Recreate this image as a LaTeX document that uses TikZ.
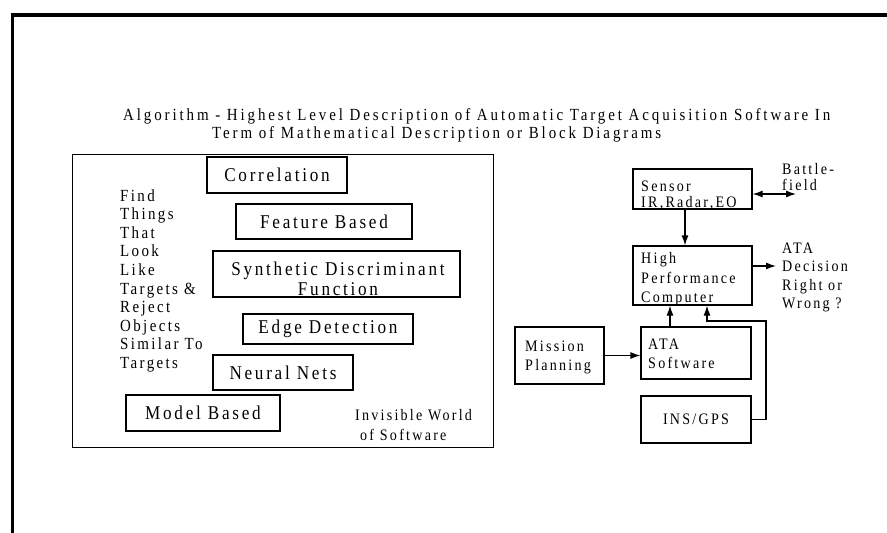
\documentclass[tikz,border=0pt]{standalone}
\usepackage{fontspec}
\setmainfont{Liberation Serif}[LetterSpace=14,FakeStretch=0.88]
\newfontfamily\titlefont{Liberation Serif}[LetterSpace=17,FakeStretch=0.88]
\usetikzlibrary{arrows.meta}
\begin{document}
\begin{tikzpicture}[x=1pt,y=-1pt,
  box/.style={draw, line width=1.2pt, inner sep=0pt},
  boxtxt/.style={font=\fontsize{19.5}{20}\selectfont},
  lbl/.style={inner sep=0pt, font=\fontsize{16}{18.6}\selectfont, align=left, anchor=north west},
  arr/.style={line width=1.2pt, -{Latex[length=10pt,width=7pt]}},
  darr/.style={line width=1.2pt, {Latex[length=10pt,width=7pt]}-{Latex[length=10pt,width=7pt]}},
  ttl/.style={inner sep=0pt, anchor=base west, font=\titlefont\fontsize{17}{17}\selectfont}
]
\useasboundingbox (0,0) rectangle (887,533);
\fill[white] (0,0) rectangle (887,533);
% page borders
\draw[line width=4pt] (11,14.5) -- (887,14.5);
\draw[line width=3.5pt] (12.5,13) -- (12.5,533);
% title
\node[ttl] (title1) at (123,120) {Algorithm - Highest Level Description of Automatic Target Acquisition Software In};
\node[ttl] (title2) at (212,138) {Term of Mathematical Description or Block Diagrams};
% left frame
\node[draw, line width=0.8pt, inner sep=0pt, minimum width=421pt, minimum height=293pt] (world) at (282.5,301) {};
% algorithm boxes
\node[box, boxtxt, minimum width=140pt, minimum height=36pt] (corr) at (277,175) {Correlation};
\node[box, boxtxt, minimum width=176pt, minimum height=35pt] (feat) at (324,221.5) {Feature Based};
\node[box, minimum width=247pt, minimum height=46pt] (synth) at (336.5,274) {};
\node[inner sep=0pt, boxtxt, align=center] (synthtxt) at (338,279) {Synthetic Discriminant\\Function};
\node[box, boxtxt, minimum width=170pt, minimum height=30pt] (edge) at (328,329) {Edge Detection};
\node[box, boxtxt, minimum width=140pt, minimum height=35pt] (neural) at (283,372.5) {Neural Nets};
\node[box, boxtxt, minimum width=154pt, minimum height=36pt] (model) at (203,413) {Model Based};
% left text
\node[lbl, font=\fontsize{17}{18.6}\selectfont] (find) at (120,189) {Find\\Things\\That\\Look\\Like\\Targets \&\\Reject\\Objects\\Similar To\\Targets};
\node[lbl, font=\fontsize{16}{20}\selectfont] (invis) at (355,409.4) {Invisible World\\\hspace*{5pt}of Software};
% right block diagram
\node[box, minimum width=119pt, minimum height=40pt] (sensor) at (692.5,189) {};
\node[lbl, font=\fontsize{16}{16}\selectfont] (sensortxt) at (641,180.4) {Sensor\\IR,Radar,EO};
\node[box, minimum width=119pt, minimum height=59pt] (hpc) at (692.5,275.5) {};
\node[lbl, font=\fontsize{16}{19.5}\selectfont] (hpctxt) at (641,252.4) {High\\Performance\\Computer};
\node[box, minimum width=89pt, minimum height=57pt] (mission) at (559.5,355.5) {};
\node[lbl, font=\fontsize{16}{19}\selectfont] (missiontxt) at (525,340.4) {Mission\\Planning};
\node[box, minimum width=110pt, minimum height=52pt] (ata) at (696,353) {};
\node[lbl, font=\fontsize{16}{19}\selectfont] (atatxt) at (648,338.4) {ATA\\Software};
\node[box, font=\fontsize{16}{17}\selectfont, minimum width=110pt, minimum height=47pt] (ins) at (696,419.5) {INS/GPS};
\node[lbl, font=\fontsize{16}{16}\selectfont] (bf) at (782,163) {Battle-\\field};
\node[lbl] (dec) at (782,242.4) {ATA\\Decision\\Right or\\Wrong ?};
% connectors
\coordinate (bfend) at (796,194);
\coordinate (decend) at (776,266);
\coordinate (loopTR) at (766,321);
\draw[arr] ([xshift=-7.5pt]sensor.south) -- ([xshift=-7.5pt]hpc.north);
\draw[darr] (sensor.east |- bfend) -- (bfend);
\draw[arr] (hpc.east |- decend) -- (decend);
\draw[arr] ([xshift=-26pt]ata.north) -- ([xshift=-26pt]ata.north |- hpc.south);
\draw[arr] (ins.east) -| (loopTR) -| ([xshift=14.5pt]hpc.south);
\draw[arr] (mission.east) -- (mission.east -| ata.west);
\end{tikzpicture}
\end{document}
